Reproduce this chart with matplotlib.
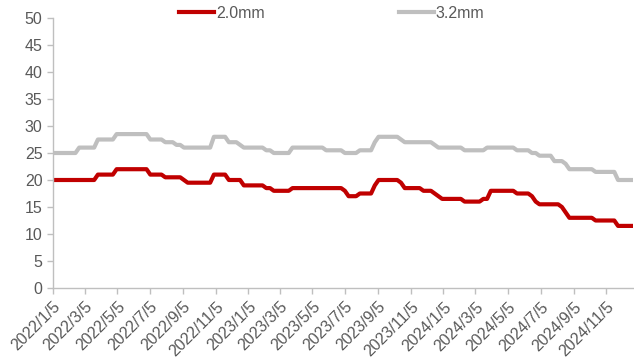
import matplotlib
matplotlib.use("Agg")
import matplotlib.pyplot as plt
import pandas as pd

# weekly prices, starting 2022/1/5
start_date = "2022-01-05"

thin_20 = [20, 20, 20, 20, 20, 20, 20, 20, 20, 20, 20, 20,
           21, 21, 21, 21, 21,
           22, 22, 22, 22, 22, 22, 22, 22, 22,
           21, 21, 21, 21,
           20.5, 20.5, 20.5, 20.5, 20.5,
           20,
           19.5, 19.5, 19.5, 19.5, 19.5, 19.5, 19.5,
           21, 21, 21, 21,
           20, 20, 20, 20,
           19, 19, 19, 19, 19, 19,
           18.5, 18.5,
           18, 18, 18, 18, 18,
           18.5, 18.5, 18.5, 18.5, 18.5, 18.5, 18.5, 18.5, 18.5, 18.5, 18.5, 18.5, 18.5, 18.5,
           18,
           17, 17, 17,
           17.5, 17.5, 17.5, 17.5,
           19,
           20, 20, 20, 20, 20, 20,
           19.5,
           18.5, 18.5, 18.5, 18.5, 18.5,
           18, 18, 18,
           17.5, 17,
           16.5, 16.5, 16.5, 16.5, 16.5, 16.5,
           16, 16, 16, 16, 16,
           16.5, 16.5,
           18, 18, 18, 18, 18, 18, 18,
           17.5, 17.5, 17.5, 17.5,
           17, 16,
           15.5, 15.5, 15.5, 15.5, 15.5, 15.5,
           15,
           14,
           13, 13, 13, 13, 13, 13, 13,
           12.5, 12.5, 12.5, 12.5, 12.5, 12.5,
           11.5, 11.5, 11.5, 11.5, 11.5]

thick_32 = [25, 25, 25, 25, 25, 25, 25,
            26, 26, 26, 26, 26,
            27.5, 27.5, 27.5, 27.5, 27.5,
            28.5, 28.5, 28.5, 28.5, 28.5, 28.5, 28.5, 28.5, 28.5,
            27.5, 27.5, 27.5, 27.5,
            27, 27, 27,
            26.5, 26.5,
            26, 26, 26, 26, 26, 26, 26, 26,
            28, 28, 28, 28,
            27, 27, 27,
            26.5,
            26, 26, 26, 26, 26, 26,
            25.5, 25.5,
            25, 25, 25, 25, 25,
            26, 26, 26, 26, 26, 26, 26, 26, 26,
            25.5, 25.5, 25.5, 25.5, 25.5,
            25, 25, 25, 25,
            25.5, 25.5, 25.5, 25.5,
            27,
            28, 28, 28, 28, 28, 28,
            27.5,
            27, 27, 27, 27, 27, 27, 27, 27,
            26.5,
            26, 26, 26, 26, 26, 26, 26,
            25.5, 25.5, 25.5, 25.5, 25.5, 25.5,
            26, 26, 26, 26, 26, 26, 26, 26,
            25.5, 25.5, 25.5, 25.5,
            25, 25,
            24.5, 24.5, 24.5, 24.5,
            23.5, 23.5, 23.5,
            23,
            22, 22, 22, 22, 22, 22, 22,
            21.5, 21.5, 21.5, 21.5, 21.5, 21.5,
            20, 20, 20, 20, 20]

tick_labels = ["2022/1/5", "2022/3/5", "2022/5/5", "2022/7/5", "2022/9/5",
               "2022/11/5", "2023/1/5", "2023/3/5", "2023/5/5", "2023/7/5",
               "2023/9/5", "2023/11/5", "2024/1/5", "2024/3/5", "2024/5/5",
               "2024/7/5", "2024/9/5", "2024/11/5"]

dates = pd.date_range(start_date, periods=len(thin_20), freq="7D")
tick_dates = pd.to_datetime(tick_labels, format="%Y/%m/%d")

plt.rcParams["font.family"] = ["Liberation Sans", "DejaVu Sans"]

fig = plt.figure(figsize=(6.34, 3.62), dpi=100)
ax = fig.add_axes([53 / 634, 74 / 362, 580 / 634, 270 / 362])

ax.plot(dates, thin_20, color="#C00000", lw=3, label="2.0mm", solid_joinstyle="round")
ax.plot(dates, thick_32, color="#BFBFBF", lw=3, label="3.2mm", solid_joinstyle="round")

ax.set_xlim(dates[0], dates[-1])
ax.set_ylim(0, 50)
ax.set_yticks(range(0, 51, 5))
ax.set_xticks(tick_dates)
ax.set_xticklabels(tick_labels, rotation=45, ha="right", rotation_mode="anchor")

for side in ["top", "right"]:
    ax.spines[side].set_visible(False)
for side in ["left", "bottom"]:
    ax.spines[side].set_color("#BFBFBF")
    ax.spines[side].set_linewidth(1)
ax.tick_params(axis="both", colors="#BFBFBF", length=4, width=1,
               labelcolor="#595959", labelsize=11.5)
ax.tick_params(axis="x", pad=4)

fig.legend(loc="center", bbox_to_anchor=(0.523, 0.964), ncol=2, frameon=False,
           fontsize=11.5, handlelength=2.2, handletextpad=0.1, columnspacing=8.4,
           labelcolor="#595959")

fig.savefig("out.png", dpi=100)
